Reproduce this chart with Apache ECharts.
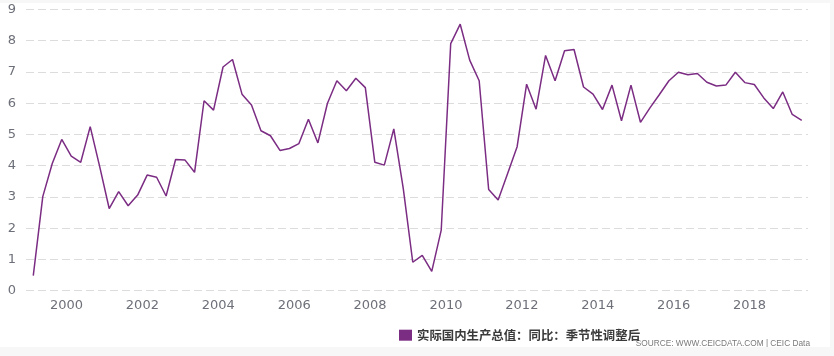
<!DOCTYPE html>
<html>
<head>
<meta charset="utf-8">
<script src="https://cdn.jsdelivr.net/npm/echarts@6/dist/echarts.min.js"></script>
<style>
  html, body { margin: 0; padding: 0; background: #f7f7f7; }
  #charts { position: absolute; left: 0; top: 3px; width: 830px; height: 344px; background: #fff; }
</style>
</head>
<body>
<div id="charts"></div>
<script>
// quarterly real GDP yoy, seasonally adjusted, from 1999 Q1
const startYear = 1999
const gdpYoy = [
  0.48, 3.01, 4.07, 4.84, 4.31, 4.11, 5.25, 3.97, 2.63, 3.17,
  2.72, 3.06, 3.70, 3.63, 3.03, 4.20, 4.18, 3.79, 6.08, 5.78,
  7.16, 7.40, 6.29, 5.94, 5.12, 4.96, 4.49, 4.55, 4.71, 5.49,
  4.73, 5.99, 6.72, 6.40, 6.80, 6.50, 4.11, 4.02, 5.18, 3.27,
  0.91, 1.13, 0.62, 1.94, 7.91, 8.53, 7.38, 6.72, 3.24, 2.90,
  3.75, 4.61, 6.61, 5.81, 7.53, 6.72, 7.68, 7.72, 6.52, 6.29,
  5.80, 6.58, 5.44, 6.58, 5.39, 5.85, 6.28, 6.72, 6.99, 6.91,
  6.95, 6.67, 6.55, 6.58, 6.99, 6.66, 6.60, 6.17, 5.83, 6.36,
  5.64, 5.45
]
const yearTicks = [2000, 2002, 2004, 2006, 2008, 2010, 2012, 2014, 2016, 2018]
const seriesName = '实际国内生产总值：同比：季节性调整后'

// each point sits at the middle of its quarter
const points = gdpYoy.map((v, i) => [startYear + (i + 0.5) / 4, v])

const charts = echarts.init(document.getElementById('charts'))
charts.setOption({
  animation: false,
  textStyle: { fontFamily: 'DejaVu Sans' },
  grid: { left: 26, right: 22, top: 6.3, bottom: 56.3 },
  legend: {
    data: [seriesName],
    left: 394,
    top: 321,
    icon: 'rect',
    itemWidth: 13,
    itemHeight: 11,
    itemGap: 5,
    textStyle: { fontSize: 12.4, color: '#3a3a3a', fontWeight: 'bold', fontFamily: 'Noto Sans CJK SC' },
  },
  xAxis: {
    type: 'value',
    min: 1998.933,
    max: 2019.54,
    axisLine: { show: false },
    axisTick: { show: false },
    splitLine: { show: false },
    axisLabel: {
      customValues: yearTicks,
      formatter: v => String(v),
      color: '#6E7079',
      fontSize: 13,
      margin: 8,
    },
  },
  yAxis: {
    type: 'value',
    min: 0,
    max: 9,
    interval: 1,
    axisLine: { show: false },
    axisTick: { show: false },
    axisLabel: { color: '#6E7079', fontSize: 13, margin: 10 },
    splitLine: { lineStyle: { color: '#dcdcdc', type: [8, 4], width: 1 } },
  },
  series: [
    {
      name: seriesName,
      type: 'line',
      data: points,
      showSymbol: false,
      symbol: 'none',
      lineStyle: { color: '#7B2C83', width: 1.5 },
      itemStyle: { color: '#7B2C83' },
    },
  ],
  graphic: [
    {
      type: 'text',
      right: 20,
      top: 337,
      style: {
        text: 'SOURCE: WWW.CEICDATA.COM | CEIC Data',
        fill: '#7a7a7a',
        fontSize: 8.3,
        fontFamily: 'Liberation Sans Narrow, Liberation Sans',
      },
    },
  ],
})
</script>
</body>
</html>
